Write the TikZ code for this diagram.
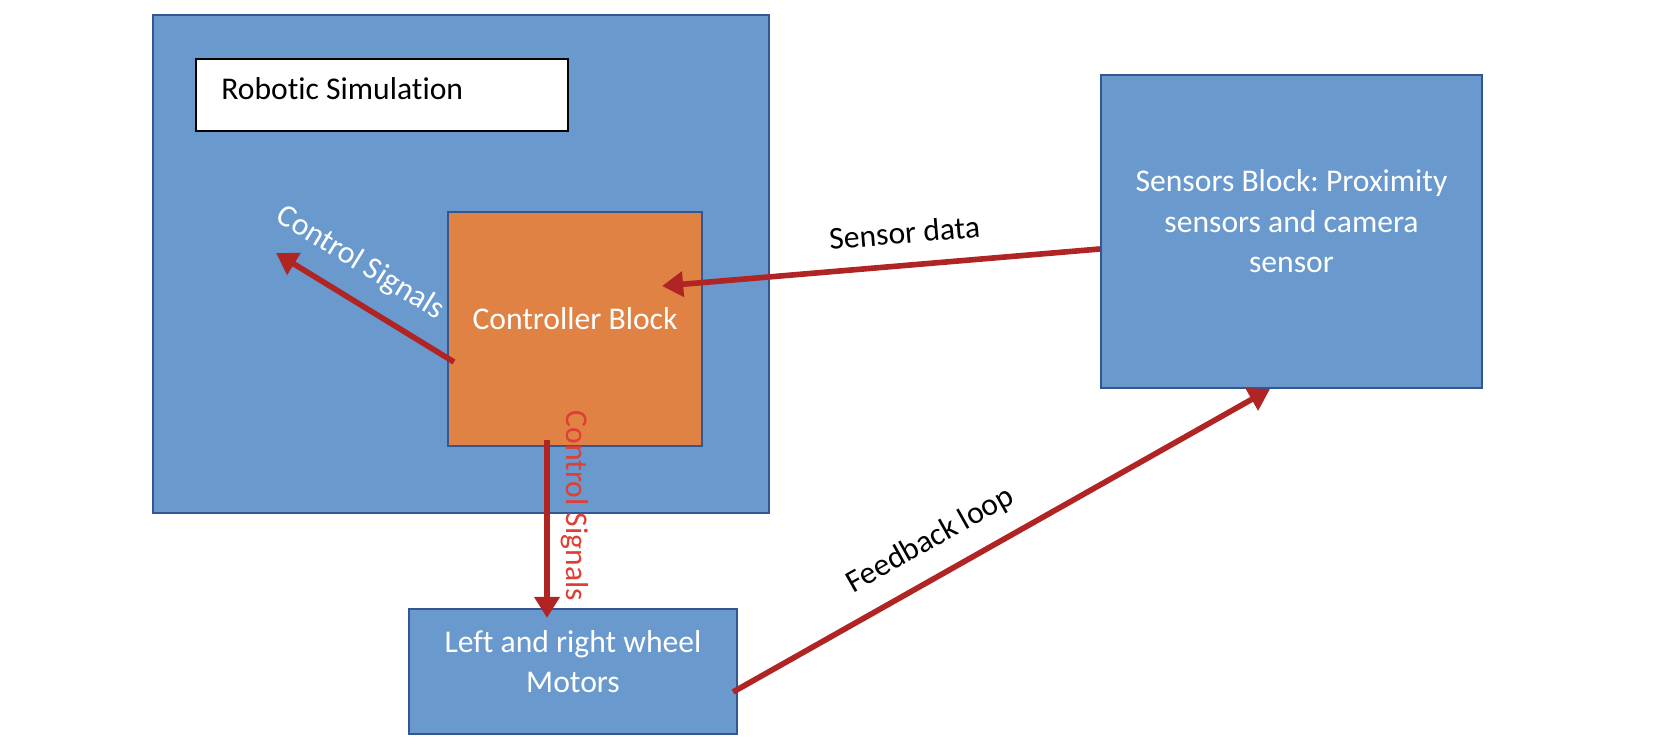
\documentclass[tikz,border=0pt]{standalone}
\usepackage{fontspec}
\setmainfont{Carlito}[Ligatures=NoCommon]
\usepackage{tikz}
\usetikzlibrary{arrows.meta,positioning,calc}

\definecolor{blockblue}{RGB}{106,153,206}
\definecolor{edgeblue}{RGB}{52,86,146}
\definecolor{ctrlorange}{RGB}{223,130,68}
\definecolor{sigred}{RGB}{176,36,36}
\definecolor{labelred}{RGB}{224,62,52}

\frenchspacing
\begin{document}
\begin{tikzpicture}[every node/.style={font=\fontsize{9}{11.5}\selectfont},
  block/.style={draw=edgeblue, line width=0.6pt, fill=blockblue, inner sep=0pt},
  blocktext/.style={text=white, align=center},
  sig/.style={draw=sigred, line width=1.6pt},
  >={Triangle[length=6pt,width=7pt]}]
  \useasboundingbox (0,0) rectangle (16.8,7.51);
  % simulation frame with its title box
  \node[block, minimum width=6.16cm, minimum height=4.98cm] (sim) at (4.61,4.87) {};
  \node[draw=black, line width=0.6pt, fill=white, inner sep=0pt,
        minimum width=3.72cm, minimum height=0.72cm] (simtitle) at (3.82,6.56) {};
  \node[anchor=west] (simlabel) at ([xshift=0.14cm,yshift=0.06cm]simtitle.west) {Robotic Simulation};
  % controller inside the frame
  \node[block, fill=ctrlorange, minimum width=2.54cm, minimum height=2.34cm] (ctrl) at (5.75,4.22) {};
  \node[blocktext] (ctrltext) at ([yshift=1mm]ctrl.center) {Controller Block};
  % sensors and motors
  \node[block, minimum width=3.81cm, minimum height=3.13cm] (sens) at (12.915,5.195) {};
  \node[blocktext] (senstext) at ([yshift=1mm]sens.center) {Sensors Block: Proximity\\ sensors and camera\\ sensor};
  \node[block, minimum width=3.28cm, minimum height=1.25cm] (mot) at (5.73,0.795) {};
  \node[blocktext] (mottext) at ([yshift=1mm]mot.center) {Left and right wheel\\ Motors};
  % signals
  \coordinate (csout) at (2.76,4.98);
  \draw[sig, <-] (csout) -- node[sloped, above=2pt, pos=0.37, text=white] (cslabel) {Control Signals}
    ($(ctrl.west)+(0.07,-0.33)$);
  \draw[sig, <-] ($(ctrl.east)+(-0.41,0.43)$) -- node[sloped, above=2pt, pos=0.56] (sdlabel) {Sensor data}
    ($(sens.west)+(0,-0.175)$);
  \draw[sig, ->] ($(ctrl.south)+(-0.28,0.07)$) -- node[rotate=-90, anchor=south, pos=0.37, text=labelred] (cs2label) {Control Signals}
    ($(mot.north)+(-0.26,-0.1)$);
  \draw[sig, ->] ($(mot.east)+(-0.05,-0.205)$) -- node[sloped, above=2pt, pos=0.4] (fblabel) {Feedback loop}
    ($(sens.south)+(-0.215,0)$);
\end{tikzpicture}
\end{document}
